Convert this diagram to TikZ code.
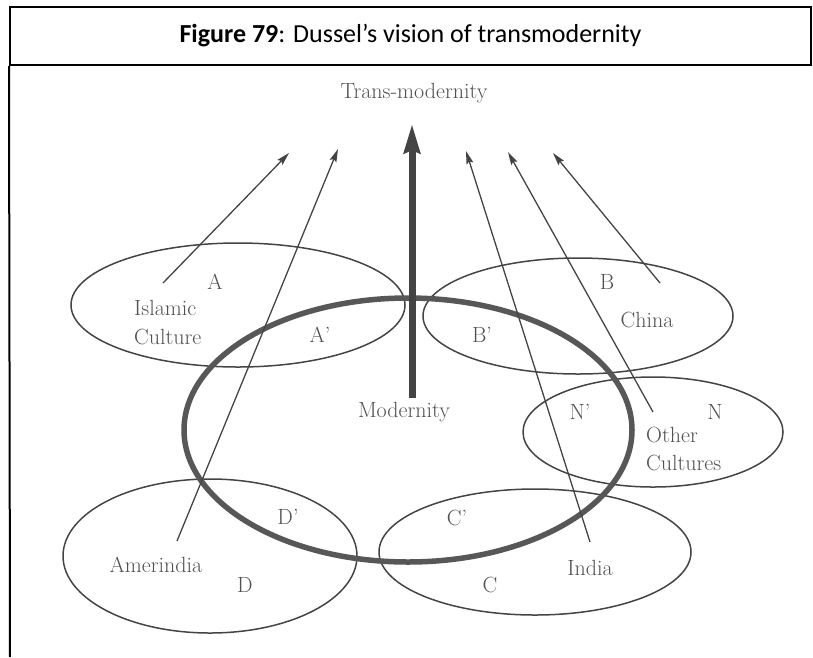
\documentclass[tikz,border=0pt]{standalone}
\usepackage{fontspec}
\newfontfamily\titlefont{Carlito}
\usetikzlibrary{arrows.meta,shapes.geometric}
\definecolor{ink}{HTML}{444444}
\definecolor{txt}{HTML}{505050}
\tikzset{
  culture/.style={ellipse,draw=ink,line width=1.5pt,inner sep=0pt},
  bigring/.style={ellipse,draw=ink!90,line width=5.5pt,inner sep=0pt},
  lbl/.style={text=txt,font=\fontsize{22}{23}\selectfont,inner sep=0pt},
  thinarrow/.style={draw=ink,line width=1.3pt,-{Stealth[length=13pt,width=7pt,inset=2pt]}},
  thickarrow/.style={draw=ink,line width=7pt,-{Stealth[length=29pt,width=16pt,inset=3pt]}},
  frame/.style={draw=black,line width=2pt}
}
\begin{document}
\begin{tikzpicture}[x=1pt,y=-1pt]
\useasboundingbox (0,0) rectangle (813,657);
% title frame
\node[frame,minimum width=801pt,minimum height=58pt,inner sep=0pt,anchor=north west] (titlebox) at (9,6) {};
\node[font=\titlefont\fontsize{26}{28}\selectfont,inner sep=0pt] (title) at (titlebox.center) {\textbf{Figure 79}: Dussel’s vision of transmodernity};
\coordinate (lb) at (10,657);
\draw[frame] (titlebox.south west) -- (lb);
% ellipses
\node[culture,minimum width=334pt,minimum height=124pt] (EA) at (238,305) {};
\node[culture,minimum width=310pt,minimum height=116pt] (EB) at (578,316) {};
\node[culture,minimum width=260pt,minimum height=110pt] (EN) at (653,432) {};
\node[culture,minimum width=294pt,minimum height=154pt] (ED) at (210,556) {};
\node[culture,minimum width=312pt,minimum height=126pt] (EC) at (535,552) {};
\node[bigring,minimum width=448pt,minimum height=264pt] (EM) at (408,430) {};
% labels
\node[lbl] (trans) at (414,93) {Trans-modernity};
\node[lbl] (modern) at (404,412) {Modernity};
\node[lbl] (lA) at (215,282) {A};
\node[lbl,anchor=west] (isl) at (134,308) {Islamic};
\node[lbl,anchor=west] (cul) at (134,337) {Culture};
\node[lbl] (lAp) at (320,335) {A'};
\node[lbl] (lB) at (607,282) {B};
\node[lbl] (china) at (647,320) {China};
\node[lbl] (lBp) at (482,335) {B'};
\node[lbl] (lNp) at (580,412) {N'};
\node[lbl] (lN) at (715,412) {N};
\node[lbl,anchor=west] (oth) at (646,435) {Other};
\node[lbl,anchor=west] (cults) at (646,463) {Cultures};
\node[lbl] (lDp) at (288,517) {D'};
\node[lbl] (lCp) at (457,518) {C'};
\node[lbl] (amer) at (156,565) {Amerindia};
\node[lbl] (lD) at (245,585) {D};
\node[lbl] (india) at (590,568) {India};
\node[lbl] (lC) at (490,585) {C};
% arrows
\coordinate (fIsl) at (163,283);  \coordinate (tIsl) at (289,153);
\coordinate (fAme) at (177,541);  \coordinate (tAme) at (338,149);
\coordinate (fInd) at (590,542);  \coordinate (tInd) at (466,151);
\coordinate (fOth) at (653,412);  \coordinate (tOth) at (508,152);
\coordinate (fChi) at (660,283);  \coordinate (tChi) at (553,153);
\coordinate (fMod) at (412,398);  \coordinate (tMod) at (412,124);
\draw[thinarrow] (fIsl) -- (tIsl);
\draw[thinarrow] (fAme) -- (tAme);
\draw[thinarrow] (fInd) -- (tInd);
\draw[thinarrow] (fOth) -- (tOth);
\draw[thinarrow] (fChi) -- (tChi);
\draw[thickarrow] (fMod) -- (tMod);
\end{tikzpicture}
\end{document}
